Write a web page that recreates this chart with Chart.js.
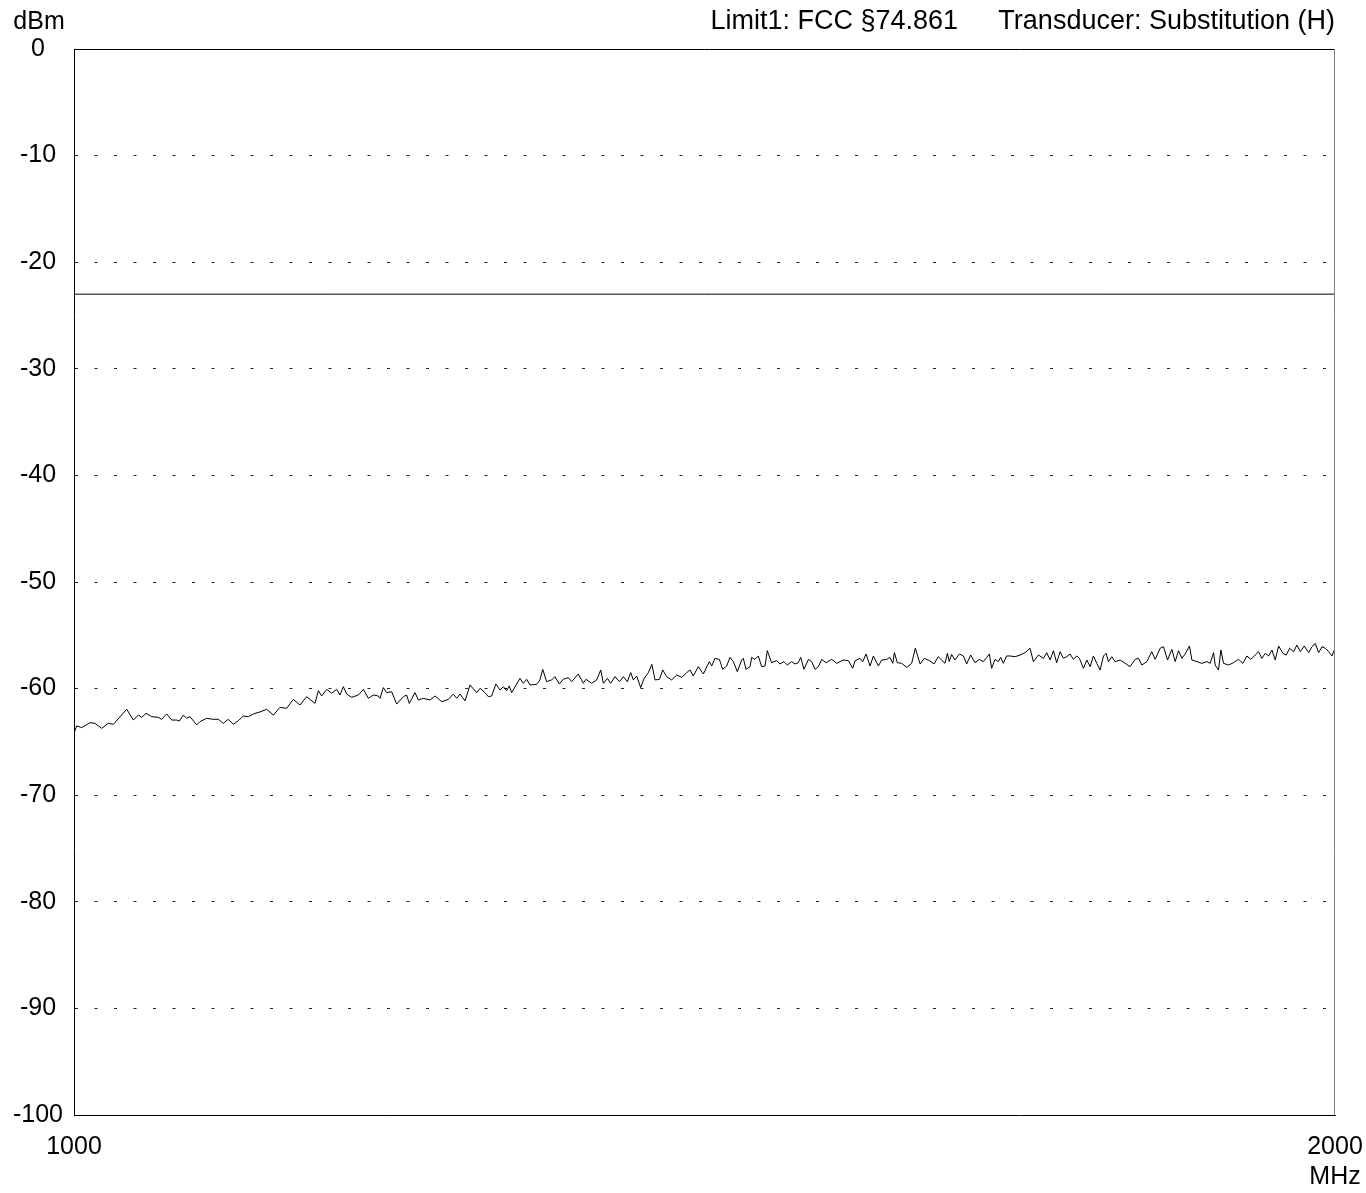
<!DOCTYPE html>
<html>
<head>
<meta charset="utf-8">
<script src="https://cdn.jsdelivr.net/npm/chart.js@4/dist/chart.umd.min.js"></script>
<style>
html,body{margin:0;padding:0;background:#fff;}
canvas{display:block;}
</style>
</head>
<body>
<canvas id="c" width="1366" height="1193"></canvas>
<script>
// ---- data ----
const yUnit = 'dBm';
const xUnit = 'MHz';
const headerLimit = 'Limit1: FCC §74.861';
const headerTransducer = 'Transducer: Substitution (H)';
const xTicks = [1000, 2000];
const yTicks = [0, -10, -20, -30, -40, -50, -60, -70, -80, -90, -100];
const limitFreq = [1000, 2000];
const limitLevel = [-23, -23];

const freq = [
1000,1002.1,1006.1,1012.7,1016.7,1021.9,1027.2,1031.2,1041.8,1047.1,1051.0,1053.7,1057.1,1061.6,1066.9,1069.5,1073.5,1077.5,1081.4,1083.5,
1086.7,1089.3,1092.0,1097.3,1099.9,1105.2,1110.5,1114.5,1118.4,1122.4,1126.4,1130.3,1134.3,1138.3,1142.2,1147.5,1152.8,1158.1,1163.4,1168.6,
1173.9,1179.2,1184.5,1191.1,1193.8,1196.4,1200.4,1204.3,1208.3,1210.9,1213.6,1216.2,1220.2,1225.5,1229.5,1233.4,1237.4,1241.3,
1242.7,1245.3,1248.0,1251.9,1255.9,1261.2,1263.8,1265.9,1270.4,1273.1,1277.0,1282.3,1286.3,1291.6,1296.9,1300.8,1303.5,1306.1,1310.1,1314.0,
1319.3,1322.0,1325.9,1328.6,1331.2,1334.6,1337.8,1340.5,1343.1,1345.2,1347.1,1351.0,1353.7,1356.3,1359.0,1361.6,1366.9,1369.5,1371.7,1374.8,
1378.8,1381.4,1384.9,1388.0,1392.0,1394.7,1399.9,1403.9,1406.0,1410.5,1414.5,1417.7,1419.8,1423.0,1425.6,1429.0,1432.5,1435.7,1438.8,1441.5,
1443.6,1446.2,1449.4,1452.1,1455.5,1458.2,1460.8,1464.2,1466.9,1470.0,1474.0,1478.0,1481.9,1485.9,1488.5,
1491.1,1495.1,1499.1,1503.8,1505.7,1508.3,1511.8,1514.4,1517.6,1520.2,1522.9,1526.0,1529.5,1530.8,1532.9,1536.1,1537.4,1540.0,1542.7,1545.3,
1548.0,1549.8,1553.2,1557.2,1559.9,1563.0,1565.7,1569.1,1571.8,1574.4,1576.3,1578.9,1582.4,1585.0,1587.7,1590.3,1593.0,1596.4,1600.9,1604.8,
1610.1,1614.1,1617.5,1619.4,1623.3,1625.5,1628.1,1631.3,1633.9,1637.9,1640.5,1644.5,1647.1,1649.3,1650.6,1652.9,1656.4,1660.4,1664.3,1667.2,
1671.0,1674.3,1678.8,1682.0,1685.4,1690.7,1692.6,1694.1,1696.0,1698.6,1702.1,1705.3,1707.9,1711.1,1714.5,1717.9,1721.1,1723.8,1725.9,1727.7,
1730.4,1733.0,1734.9,1737.0,1739.6,1742.3,
1746.3,1750.2,1754.2,1758.2,1760.8,1764.8,1768.8,1771.4,1774.1,1776.7,1779.3,1782.0,1784.6,1787.3,1789.9,1792.6,1795.2,1797.3,1800.5,1803.2,
1805.8,1808.4,1811.1,1813.7,1816.4,1818.5,1820.3,1823.0,1825.6,1829.6,1833.6,1837.5,1841.5,1844.2,1846.8,1850.8,1854.7,1857.4,1861.3,1864.0,
1867.2,1870.6,1873.3,1875.9,1878.6,1881.2,1884.6,1886.5,1890.5,1894.4,1898.4,1901.0,1903.7,1905.0,1907.6,1909.5,1911.6,1915.6,1919.5,1923.5,
1926.9,1930.1,1933.3,1936.7,1939.4,1942.0,1944.7,1947.3,1950.0,1952.6,1955.3,1958.7,1961.4,1964.0,1967.2,1969.8,1972.5,1975.6,1979.1,1981.7,
1984.4,1987.0,1989.7,1992.3,1995.0,1997.6,2000
];
const level = [
-64.2,-63.5,-63.66,-63.2,-63.26,-63.73,-63.26,-63.35,-61.94,-62.95,-62.48,-62.7,-62.32,-62.63,-62.7,-62.88,-62.38,-62.95,-62.95,-63.04,
-62.48,-62.79,-62.63,-63.41,-63.1,-62.79,-62.88,-62.88,-63.26,-62.88,-63.35,-63.01,-62.57,-62.63,-62.38,-62.19,-61.94,-62.48,-61.76,-61.85,
-61.01,-61.54,-60.76,-61.39,-60.19,-60.69,-60.07,-60.44,-60.07,-60.6,-59.82,-60.51,-60.82,-60.6,-60.07,-60.91,-60.6,-60.69,
-60.91,-59.91,-60.38,-60.29,-61.45,-60.76,-60.6,-61.39,-60.38,-61.07,-60.91,-61.07,-60.69,-61.23,-61.01,-60.51,-60.91,-60.51,-61.16,-59.66,
-60.38,-59.97,-60.38,-60.76,-60.69,-59.57,-60.13,-59.82,-60.19,-59.75,-60.38,-59.57,-59.04,-59.5,-59.13,-59.66,-59.6,-59.19,-58.19,-59.35,
-59.19,-58.88,-59.57,-59.13,-58.97,-59.35,-58.63,-59.5,-59.13,-59.5,-59.19,-58.25,-59.5,-59.04,-59.5,-58.88,-59.35,-58.88,-59.35,-58.5,
-59.19,-58.82,-59.91,-59.04,-58.5,-57.72,-59.19,-59.13,-58.25,-58.88,-59.19,-58.72,-58.94,-58.5,-58.25,
-58.82,-57.94,-58.63,-57.47,-57.88,-57.16,-57.26,-58.19,-57.88,-57.07,-57.47,-58.41,-57.32,-57.16,-58.19,-57.94,-57.07,-57.26,-56.94,-57.94,
-57.88,-56.44,-57.57,-57.38,-57.69,-57.47,-57.79,-57.47,-57.69,-57.57,-57.07,-58.19,-57.26,-57.47,-58.19,-57.94,-57.26,-57.57,-57.26,-57.63,
-57.32,-57.38,-58.1,-57.38,-57.16,-57.47,-56.75,-57.88,-56.94,-57.88,-57.32,-57.26,-57.07,-57.63,-56.63,-57.57,-57.63,-58.01,-57.63,-56.22,
-57.69,-57.16,-57.41,-57.69,-57.01,-57.63,-56.69,-57.47,-56.79,-57.32,-56.75,-56.94,-57.69,-56.85,-57.57,-57.26,-57.47,-57.07,-56.75,-58.1,
-57.26,-57.47,-57.07,-57.63,-56.94,-56.94,
-57.01,-56.85,-56.63,-56.22,-57.47,-56.85,-57.16,-56.63,-57.32,-56.44,-57.57,-56.54,-57.16,-57.01,-56.75,-57.26,-56.94,-57.16,-58.1,-57.32,
-57.94,-56.94,-57.63,-58.26,-56.94,-56.69,-57.47,-57.01,-57.47,-57.32,-57.63,-57.94,-57.26,-57.16,-57.79,-57.47,-56.54,-57.26,-56.22,-56.07,
-57.32,-56.32,-57.47,-56.44,-57.16,-56.75,-56.0,-57.32,-57.47,-57.63,-57.47,-57.63,-56.63,-57.79,-58.26,-56.38,-57.63,-57.79,-57.57,-57.26,
-57.63,-56.94,-57.26,-56.85,-56.54,-57.16,-56.69,-56.94,-56.38,-57.32,-56.0,-56.69,-56.85,-56.22,-56.54,-55.91,-56.54,-56.0,-56.63,-56.07,
-55.76,-56.63,-56.07,-56.22,-56.54,-56.94,-56.22
];

// ---- chart ----
const FONT = '"Liberation Sans", Arial, Helvetica, sans-serif';
const tickFont = {family: FONT, size: 25, lineHeight: 1.2};

const framePlugin = {
  id: 'frame',
  afterDraw(chart) {
    const {ctx, chartArea: a} = chart;
    ctx.save();
    ctx.lineWidth = 1;
    ctx.strokeStyle = '#000';
    ctx.beginPath();
    ctx.moveTo(a.left, a.top + 0.5);
    ctx.lineTo(a.right, a.top + 0.5);
    ctx.stroke();
    ctx.strokeStyle = '#808080';
    ctx.beginPath();
    ctx.moveTo(a.right - 0.5, a.top);
    ctx.lineTo(a.right - 0.5, a.bottom);
    ctx.stroke();
    ctx.fillStyle = '#000';
    ctx.textBaseline = 'middle';
    ctx.font = '25px ' + FONT;
    ctx.textAlign = 'center';
    ctx.fillText(yUnit, 39, 22);
    ctx.font = '27px ' + FONT;
    ctx.textAlign = 'right';
    ctx.fillText(headerTransducer, a.right, 22);
    ctx.fillText(headerLimit, 958, 22);
    ctx.restore();
  }
};

new Chart(document.getElementById('c'), {
  type: 'line',
  data: {
    datasets: [
      {
        data: freq.map((f, i) => ({x: f, y: level[i]})),
        borderColor: '#000', borderWidth: 1, pointRadius: 0, tension: 0, fill: false
      },
      {
        data: limitFreq.map((f, i) => ({x: f, y: limitLevel[i]})),
        borderColor: '#000', borderWidth: 1, pointRadius: 0, tension: 0, fill: false
      }
    ]
  },
  options: {
    responsive: false,
    animation: false,
    events: [],
    layout: {padding: {top: 49, right: 31, left: 0, bottom: 0}},
    plugins: {legend: {display: false}, tooltip: {enabled: false}},
    scales: {
      x: {
        type: 'linear', min: 1000, max: 2000,
        afterBuildTicks: s => { s.ticks = xTicks.map(v => ({value: v})); },
        afterFit: s => { s.height = 78; s.paddingLeft = 0; s.paddingRight = 0; },
        ticks: {
          autoSkip: false, maxRotation: 0, minRotation: 0, padding: 17, color: '#000', font: tickFont,
          callback: v => v === 2000 ? [String(v), xUnit] : String(v)
        },
        grid: {display: false, drawTicks: false},
        border: {display: true, color: '#000', width: 1}
      },
      y: {
        min: -100, max: 0,
        afterBuildTicks: s => { s.ticks = yTicks.map(v => ({value: v})); },
        afterFit: s => { s.width = 74; s.paddingTop = 0; s.paddingBottom = 0; },
        ticks: {crossAlign: 'center', padding: 11, color: '#000', font: tickFont, autoSkip: false},
        grid: {color: '#222', lineWidth: 1, drawTicks: false},
        border: {display: true, color: '#000', width: 1, dash: [3, 16.5]}
      }
    }
  },
  plugins: [framePlugin]
});
</script>
</body>
</html>
